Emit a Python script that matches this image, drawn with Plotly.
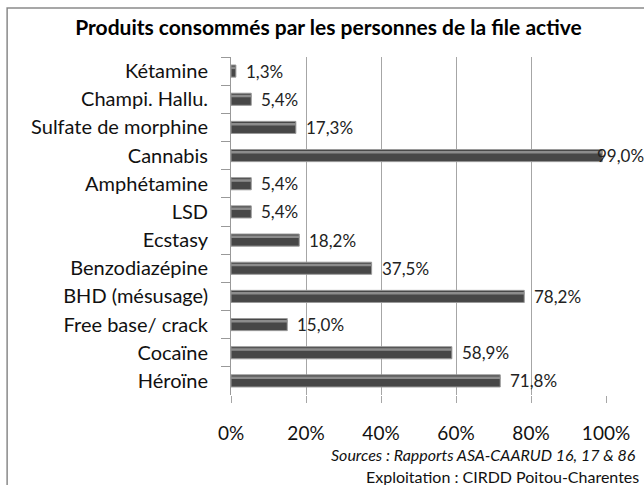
import plotly.graph_objects as go

categories = ["Kétamine", "Champi. Hallu.", "Sulfate de morphine", "Cannabis", "Amphétamine",
              "LSD", "Ecstasy", "Benzodiazépine", "BHD (mésusage)", "Free base/ crack",
              "Cocaïne", "Héroïne"]
values = [1.3, 5.4, 17.3, 99.0, 5.4, 5.4, 18.2, 37.5, 78.2, 15.0, 58.9, 71.8]
tick_vals = [0, 20, 40, 60, 80, 100]
tick_text = ["0%", "20%", "40%", "60%", "80%", "100%"]

FONT = "Lato, Open Sans, sans-serif"
x = [v / 100 for v in values]
labels = [f"{v:.1f}".replace(".", ",") + "%" for v in values]
LABEL_MAX = 0.95  # Excel pulls a label back inside when it would not fit

fig = go.Figure()
fig.add_trace(go.Bar(
    y=categories, x=x, orientation="h", width=0.43,
    marker=dict(color="#474747", line=dict(color="#9a9a9a", width=1)),
    hoverinfo="skip",
))
fig.add_trace(go.Bar(
    y=categories, x=x, orientation="h", width=0.09, offset=-0.16,
    marker=dict(color="#8c8c8c", line=dict(width=0)), hoverinfo="skip",
))

annotations = [
    dict(x=min(xv, LABEL_MAX), y=c, text=t, xref="x", yref="y", xanchor="left", yanchor="middle",
         xshift=8, showarrow=False, font=dict(family=FONT, size=17, color="#222"))
    for c, xv, t in zip(categories, x, labels)
]
annotations += [
    dict(text="<i>Sources : Rapports ASA-CAARUD 16, 17 &amp; 86</i>", xref="paper", yref="paper",
         x=1.085, y=-0.1775, xanchor="right", yanchor="middle", showarrow=False,
         font=dict(family=FONT, size=16, color="#111")),
    dict(text="Exploitation : CIRDD Poitou-Charentes", xref="paper", yref="paper",
         x=1.093, y=-0.24, xanchor="right", yanchor="middle", showarrow=False,
         font=dict(family=FONT, size=16, color="#111")),
]

fig.update_layout(
    width=644, height=485, barmode="overlay", showlegend=False,
    margin=dict(l=231, r=38, t=57, b=90),
    paper_bgcolor="white", plot_bgcolor="white",
    font=dict(family=FONT, color="#111"),
    title=dict(text="<b>Produits consommés par les personnes de la file active</b>",
               x=0.51, xanchor="center", y=0.942, yanchor="middle",
               font=dict(family=FONT, size=21, color="#000")),
    xaxis=dict(range=[0, 1], tickvals=[t / 100 for t in tick_vals], ticktext=tick_text,
               showgrid=True, gridcolor="#a6a6a6", gridwidth=1, zeroline=False,
               ticks="outside", ticklen=7, tickcolor="#a6a6a6", ticklabelstandoff=14,
               tickfont=dict(family=FONT, size=19, color="#111"), showline=False),
    yaxis=dict(autorange="reversed", showline=True, linecolor="#999", linewidth=1,
               ticks="outside", tickson="boundaries", ticklen=9, tickcolor="#999",
               tickfont=dict(family=FONT, size=20, color="#111"), ticklabelstandoff=18),
    shapes=[dict(type="rect", xref="paper", yref="paper", x0=-0.597, x1=1.2, y0=-0.5, y1=1.145,
                 line=dict(color="#8a8a8a", width=1.5), fillcolor="rgba(0,0,0,0)", layer="below")],
    annotations=annotations,
)
fig.write_html("out.html", config={"displayModeBar": False},
               post_script="document.body.style.margin='0';")
